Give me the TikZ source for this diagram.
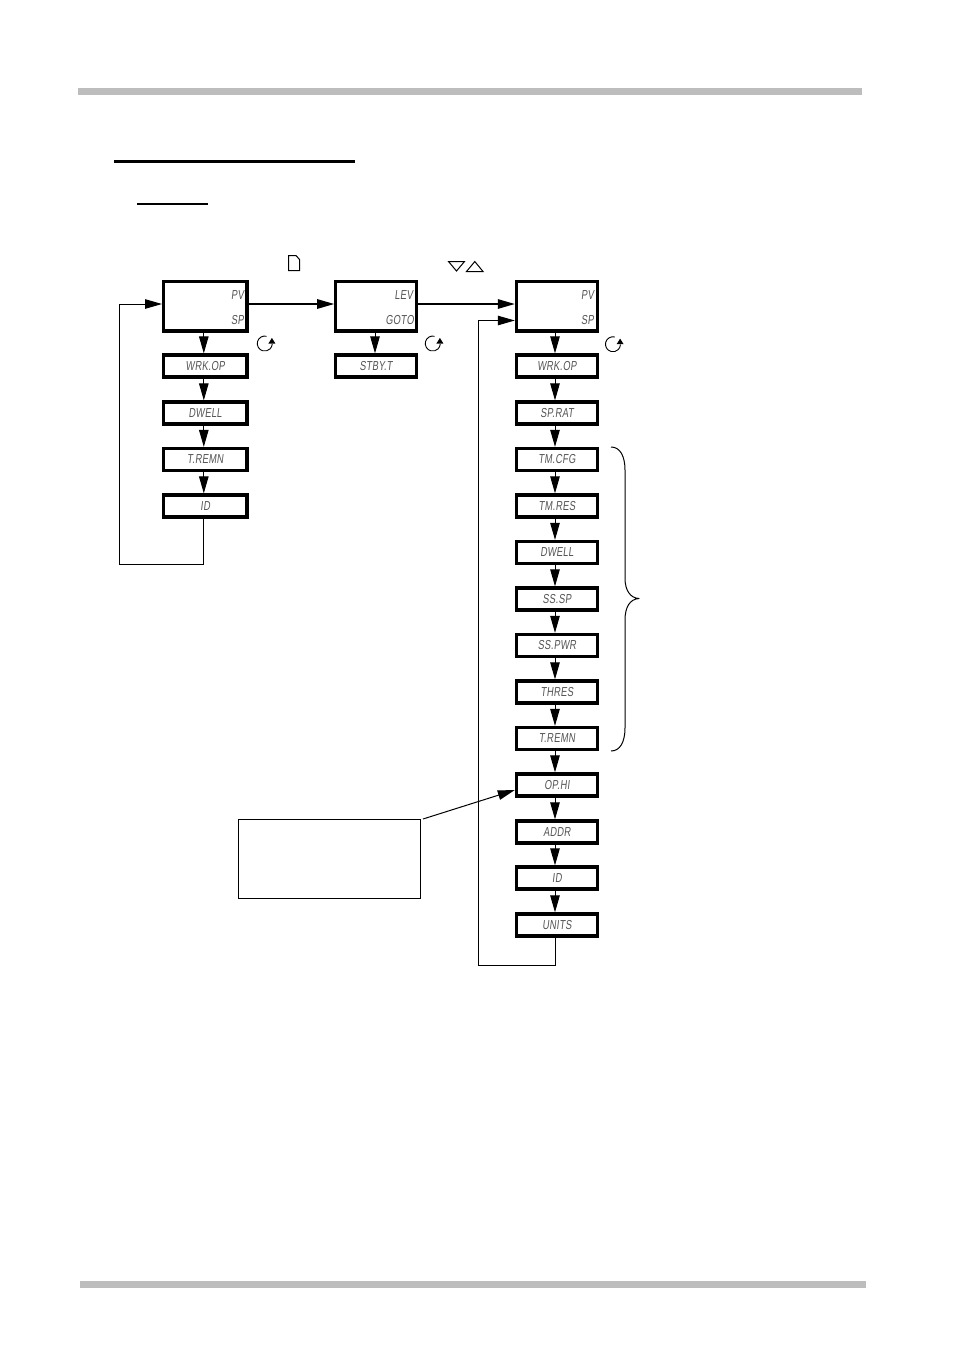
\documentclass[tikz,border=0pt]{standalone}
\usepackage{fontspec}
\setmainfont{Liberation Sans}
\newfontfamily\lcdfont[FakeStretch=0.72,FakeSlant=0.12,LetterSpace=2]{Liberation Sans}
\usetikzlibrary{arrows.meta,positioning}
\definecolor{barGray}{RGB}{189,189,189}
\definecolor{lcdInk}{RGB}{85,85,85}
\tikzset{
  lcd/.style={font=\lcdfont\fontsize{13}{13}\selectfont,text=lcdInk,inner sep=0pt},
  smallbox/.style={draw=black,line width=3.2pt,minimum height=22.1pt,inner sep=0pt,lcd},
  bigbox/.style={draw=black,line width=3.2pt,minimum height=49.8pt,inner sep=0pt},
  colA/.style={minimum width=83.4pt},
  colB/.style={minimum width=80.5pt},
  colC/.style={minimum width=81.2pt},
  flow/.style={line width=1pt,-{Triangle[length=17pt,width=9.5pt]}},
  mainflow/.style={flow,line width=1.4pt},
  thin line/.style={line width=1pt,line join=round},
  rotor/.style={line width=0.9pt},
  keyicon/.style={line width=1pt,line join=miter},
}
\begin{document}
\begin{tikzpicture}[x=1pt,y=-1pt]
\useasboundingbox (0,0) rectangle (954,1350);
% page bars and heading rules
\fill[barGray] (78,88) rectangle (862,95);
\fill[barGray] (80,1281) rectangle (866,1288);
\fill[black] (114,160) rectangle (355,163);
\fill[black] (137,203) rectangle (208,205);
% column A
\node[bigbox,colA] (a0) at (205.3,306) {};
\node[smallbox,colA] (a1) at (205.3,366) {WRK.OP};
\node[smallbox,colA] (a2) at (205.3,413) {DWELL};
\node[smallbox,colA] (a3) at (205.3,459.5) {T.REMN};
\node[smallbox,colA] (a4) at (205.3,506) {ID};
\node[lcd,anchor=east] (apv) at (244,295.5) {PV};
\node[lcd,anchor=east] (asp) at (244,320.5) {SP};
% column B
\node[bigbox,colB] (b0) at (376,306) {};
\node[smallbox,colB] (b1) at (376,366) {STBY.T};
\node[lcd,anchor=east] (blev) at (413,295.5) {LEV};
\node[lcd,anchor=east] (bgoto) at (414,320.5) {GOTO};
% column C
\node[bigbox,colC] (c0) at (557,306) {};
\node[lcd,anchor=east] (cpv) at (594,295.5) {PV};
\node[lcd,anchor=east] (csp) at (594,320.5) {SP};
\node[smallbox,colC] (c1) at (557,366) {WRK.OP};
\node[smallbox,colC] (c2) at (557,413) {SP.RAT};
\node[smallbox,colC] (c3) at (557,459.5) {TM.CFG};
\node[smallbox,colC] (c4) at (557,506) {TM.RES};
\node[smallbox,colC] (c5) at (557,552.5) {DWELL};
\node[smallbox,colC] (c6) at (557,599) {SS.SP};
\node[smallbox,colC] (c7) at (557,645.5) {SS.PWR};
\node[smallbox,colC] (c8) at (557,692) {THRES};
\node[smallbox,colC] (c9) at (557,738.5) {T.REMN};
\node[smallbox,colC] (c10) at (557,785) {OP.HI};
\node[smallbox,colC] (c11) at (557,832) {ADDR};
\node[smallbox,colC] (c12) at (557,878) {ID};
\node[smallbox,colC] (c13) at (557,925) {UNITS};
% vertical arrows
\foreach \u/\v in {a0/a1,a1/a2,a2/a3,a3/a4}
  \draw[flow] ([xshift=-1.5pt]\u.south) -- ([xshift=-1.5pt]\v.north);
\draw[flow] ([xshift=-1pt]b0.south) -- ([xshift=-1pt]b1.north);
\foreach \u/\v in {c0/c1,c1/c2,c2/c3,c3/c4,c4/c5,c5/c6,c6/c7,c7/c8,c8/c9,c9/c10,c10/c11,c11/c12,c12/c13}
  \draw[flow] ([xshift=-2pt]\u.south) -- ([xshift=-2pt]\v.north);
% horizontal arrows
\draw[mainflow] ([yshift=2pt]a0.east) -- ([yshift=2pt]b0.west);
\draw[mainflow] ([yshift=2pt]b0.east) -- ([yshift=2pt]c0.west);
% loops
\coordinate (aloopB) at (119,564.5);
\coordinate (aloopT) at (119,304);
\draw[flow] ([xshift=-1.5pt]a4.south) |- (aloopB) -- (aloopT) -- (a0.west |- aloopT);
\coordinate (cloopB) at (478,965);
\coordinate (cloopT) at (478,320.5);
\draw[flow] ([xshift=-1.5pt]c13.south) |- (cloopB) -- (cloopT) -- (c0.west |- cloopT);
% callout
\node[draw=black,line width=0.8pt,minimum width=182pt,minimum height=79pt,inner sep=0pt] (note) at (329.5,859) {};
\coordinate (noteOut) at (423,819);
\draw[flow] (noteOut) -- ([yshift=-5pt]c10.west);
% brace
\draw[thin line] (611,447) .. controls (620,447) and (625,456) .. (625,470)
  -- (625,578) .. controls (625,590) and (630,598) .. (639,598.5)
  .. controls (630,599) and (625,607) .. (625,620)
  -- (625,728) .. controls (625,742) and (620,751) .. (611,751);
% rotate icons
\foreach \cx/\cy in {264.8/343.5,432.8/343.5,613/344.2}{
  \draw[rotor] (\cx+1.9,\cy-7.2) arc[start angle=-75,end angle=-358,radius=7.5];
  \fill (\cx+3.6,\cy) -- (\cx+10.6,\cy) -- (\cx+7.1,\cy-5.6) -- cycle;
}
% page icon
\draw[keyicon] (288.5,255.5) -- (296,255.5) -- (299.5,259.5) -- (299.5,270.5) -- (288.5,270.5) -- cycle;
% arrow-key icons
\draw[keyicon] (448.5,261.5) -- (464.5,261.5) -- (456.5,271) -- cycle;
\draw[keyicon] (466.5,271.5) -- (483,271.5) -- (474.8,261.5) -- cycle;
\end{tikzpicture}
\end{document}
